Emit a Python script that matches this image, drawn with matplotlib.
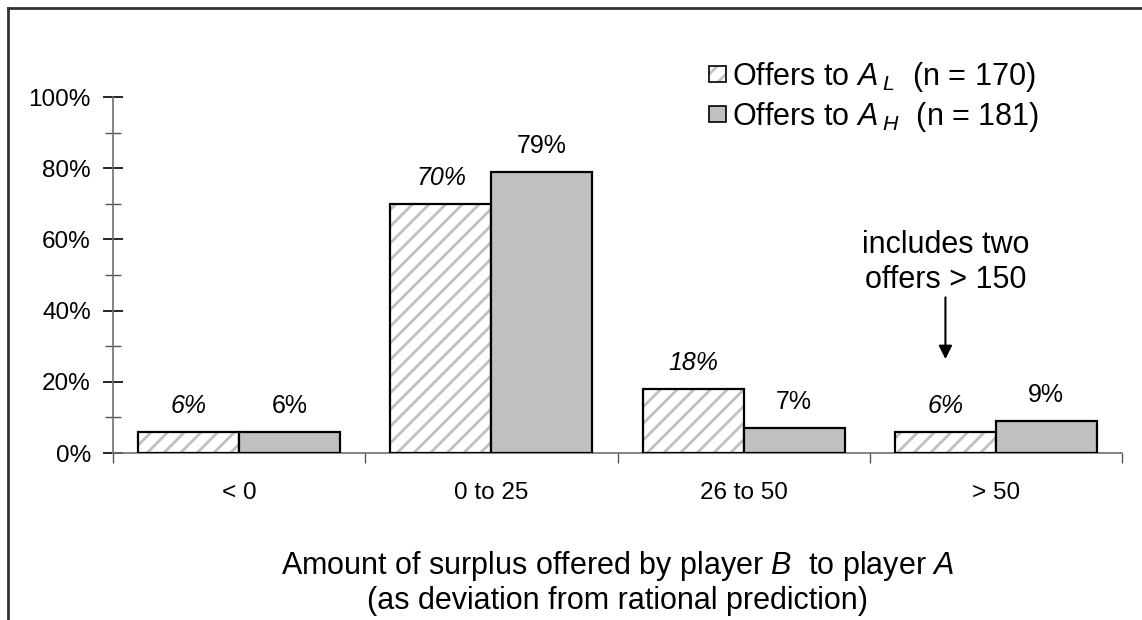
import matplotlib
matplotlib.use("Agg")
import matplotlib.pyplot as plt
from matplotlib.patches import Patch
from matplotlib.lines import Line2D
import numpy as np

plt.rcParams['font.family'] = 'Liberation Sans'
plt.rcParams['mathtext.fontset'] = 'custom'
plt.rcParams['mathtext.rm'] = 'Liberation Sans'
plt.rcParams['mathtext.it'] = 'Liberation Sans:italic'
plt.rcParams['hatch.linewidth'] = 2.0

# data
categories = ['< 0', '0 to 25', '26 to 50', '> 50']
offers_low = [6, 70, 18, 6]     # offers to A_L (n = 170)
offers_high = [6, 79, 7, 9]     # offers to A_H (n = 181)
label_low = r'Offers to $A_{\;L}$  (n = 170)'
label_high = r'Offers to $A_{\;H}$  (n = 181)'

hatch_gray = '#c0c0c0'
fill_gray = '#c0c0c0'

fig = plt.figure(figsize=(11.42, 6.2), dpi=100)
ax = fig.add_axes([113 / 1142, 1 - 453 / 620, (1122 - 113) / 1142, (453 - 97) / 620])

x = np.arange(len(categories))
w = 0.4
low = np.array(offers_low) / 100
high = np.array(offers_high) / 100

# hatched bars: gray stripes, then black outline on top
ax.bar(x - w / 2, low, w, color='white', edgecolor=hatch_gray, hatch='//', linewidth=0, zorder=2)
ax.bar(x - w / 2, low, w, fill=False, edgecolor='black', linewidth=1.6, zorder=3)
ax.bar(x + w / 2, high, w, color=fill_gray, edgecolor='black', linewidth=1.6, zorder=3)

for xi, v in zip(x - w / 2, offers_low):
    ax.annotate(f'{v}%', (xi, v / 100), xytext=(0, 10), textcoords='offset points',
                ha='center', va='bottom', fontsize=18, style='italic')
for xi, v in zip(x + w / 2, offers_high):
    ax.annotate(f'{v}%', (xi, v / 100), xytext=(0, 10), textcoords='offset points',
                ha='center', va='bottom', fontsize=18)

# note with arrow over the last category
ax.annotate('', xy=(3 - w / 2, 0.256), xytext=(3 - w / 2, 0.445),
            arrowprops=dict(arrowstyle='-|>', color='black', lw=1.5, mutation_scale=20))
ax.text(3 - w / 2, 0.445, 'includes two\noffers > 150', ha='center', va='bottom',
        fontsize=22, linespacing=1.22)

ax.set_xlim(-0.5, 3.5)
ax.set_ylim(0, 1)
ax.set_yticks(np.arange(0, 1.01, 0.2))
ax.set_yticklabels([f'{int(t * 100)}%' for t in np.arange(0, 1.01, 0.2)])
ax.set_yticks(np.arange(0.1, 1.0, 0.2), minor=True)
ax.tick_params(axis='y', which='major', direction='inout', length=14, width=1.2,
               labelsize=17.5, pad=9, color='black')
ax.tick_params(axis='y', which='minor', direction='inout', length=11, width=1.0, color='#555555')

ax.set_xticks(np.arange(-0.5, 3.6, 1.0))
ax.set_xticklabels([])
ax.set_xticks(x, minor=True)
ax.set_xticklabels(categories, minor=True)
ax.tick_params(axis='x', which='major', direction='out', length=7, width=1.0, color='#555555')
ax.tick_params(axis='x', which='minor', length=0, labelsize=17.5, pad=21)

for s in ['top', 'right']:
    ax.spines[s].set_visible(False)
ax.spines['left'].set_color('#707070')
ax.spines['bottom'].set_color('#707070')
ax.spines['left'].set_linewidth(1.2)
ax.spines['bottom'].set_linewidth(1.2)

ax.set_xlabel('Amount of surplus offered by player $B$  to player $A$\n'
              '(as deviation from rational prediction)', fontsize=22, labelpad=32,
              linespacing=1.13)

h_low = (Patch(facecolor='white', edgecolor=hatch_gray, hatch='//', linewidth=0),
         Patch(fill=False, edgecolor='black', linewidth=1.2))
h_high = Patch(facecolor=fill_gray, edgecolor='black', linewidth=1.2)
fig.legend([h_low, h_high], [label_low, label_high], loc='upper left',
           bbox_to_anchor=(709 / 1142, 1 - 60 / 620), frameon=False, fontsize=22,
           handlelength=0.56, handleheight=0.4, handletextpad=0.18, labelspacing=0.2,
           borderpad=0, borderaxespad=0)

# figure border (left and top edges visible)
bx = 8 / 1142
by = 1 - 8 / 620
fig.add_artist(Line2D([bx, bx], [0, by], transform=fig.transFigure, color='#333333', lw=2))
fig.add_artist(Line2D([bx, 1], [by, by], transform=fig.transFigure, color='#333333', lw=2))

fig.savefig('out.png', dpi=100)
